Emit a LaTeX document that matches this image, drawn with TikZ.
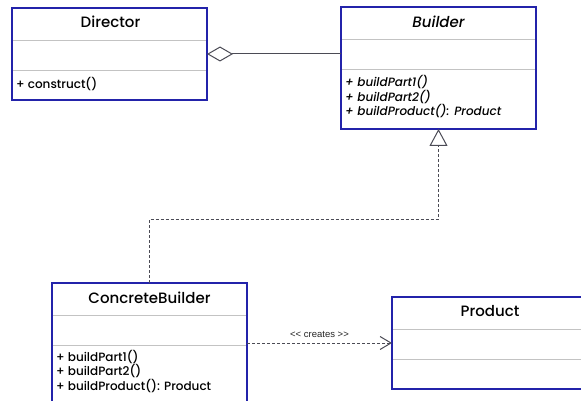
\documentclass[tikz,border=0pt]{standalone}
\usepackage{fontspec}
\setmainfont{Poppins}[UprightFont=* Medium, ItalicFont=* Medium Italic]
\newfontfamily\arialfont{Liberation Sans}
\usetikzlibrary{arrows.meta,calc}
\definecolor{boxblue}{RGB}{35,35,170}
\definecolor{sepgray}{RGB}{195,195,195}
\definecolor{linegray}{RGB}{75,75,85}
\begin{document}
\begin{tikzpicture}[x=1pt,y=-1pt,
  umlbox/.style={draw=boxblue, line width=2pt, anchor=north west, inner sep=0pt, outer sep=0pt, minimum width=195pt},
  sep/.style={draw=sepgray, line width=1pt},
  title/.style={font=\fontsize{15}{17}\selectfont, inner sep=0pt},
  meth/.style={font=\fontsize{12}{14}\selectfont, anchor=west, inner sep=0pt},
  conn/.style={draw=linegray, line width=1pt},
  dotline/.style={dash pattern=on 3pt off 2pt}
]
\useasboundingbox (0,0) rectangle (581,401);
\clip (0,0) rectangle (581,401);

% Director
\node[umlbox, minimum height=92pt] (director) at (12,8) {};
\draw[sep] ($(director.north west)+(1,33)$) -- ($(director.north east)+(-1,33)$);
\draw[sep] ($(director.north west)+(1,63)$) -- ($(director.north east)+(-1,63)$);
\node[title] (directorT) at ($(director.north)+(1,14)$) {Director};
\node[meth] (directorM) at ($(director.north west)+(4,76)$) {+ construct()};

% Builder
\node[umlbox, minimum height=122pt] (builder) at (341,7) {};
\draw[sep] ($(builder.north west)+(1,33)$) -- ($(builder.north east)+(-1,33)$);
\draw[sep] ($(builder.north west)+(1,63)$) -- ($(builder.north east)+(-1,63)$);
\node[title, font=\fontsize{15}{17}\selectfont\itshape] (builderT) at ($(builder.north)+(0,15)$) {Builder};
\node[meth, font=\fontsize{12}{14}\selectfont\itshape] (builderM1) at ($(builder.north west)+(4,75)$) {+ buildPart1()};
\node[meth, font=\fontsize{12}{14}\selectfont\itshape] (builderM2) at ($(builder.north west)+(4,90)$) {+ buildPart2()};
\node[meth, font=\fontsize{12}{14}\selectfont\itshape] (builderM3) at ($(builder.north west)+(4,104)$) {+ buildProduct(): Product};

% ConcreteBuilder
\node[umlbox, minimum height=122pt] (concrete) at (52,283) {};
\draw[sep] ($(concrete.north west)+(1,32)$) -- ($(concrete.north east)+(-1,32)$);
\draw[sep] ($(concrete.north west)+(1,62)$) -- ($(concrete.north east)+(-1,62)$);
\node[title] (concreteT) at ($(concrete.north)+(0,15)$) {ConcreteBuilder};
\node[meth] (concreteM1) at ($(concrete.north west)+(4,74)$) {+ buildPart1()};
\node[meth] (concreteM2) at ($(concrete.north west)+(4,88)$) {+ buildPart2()};
\node[meth] (concreteM3) at ($(concrete.north west)+(4,103)$) {+ buildProduct(): Product};

% Product
\node[umlbox, minimum width=196pt, minimum height=92pt] (product) at (392,297) {};
\draw[sep] ($(product.north west)+(1,32)$) -- ($(product.north east)+(-1,32)$);
\draw[sep] ($(product.north west)+(1,62)$) -- ($(product.north east)+(-1,62)$);
\node[title] (productT) at ($(product.north)+(0,14)$) {Product};

% Aggregation Director <>-- Builder
\draw[conn, {Diamond[open, length=26pt, width=15pt, line width=1pt]}-] (director.east) -- (director.east -| builder.west);

% Realization ConcreteBuilder --|> Builder
\coordinate (bend) at (300,219);
\draw[conn, dotline, -{Triangle[open, length=17pt, width=18pt, line width=1pt]}] (concrete.north) |- (bend) -| (builder.south);

% Dependency ConcreteBuilder ..> Product
\draw[conn, dotline, -{Straight Barb[length=11pt, width=13pt, line width=1pt]}] (product.west -| concrete.east) -- node[above=2pt, font=\arialfont\fontsize{9.5}{11}\selectfont, text=black!85] (createsL) {<{}< creates >{}>} (product.west);
\end{tikzpicture}
\end{document}
